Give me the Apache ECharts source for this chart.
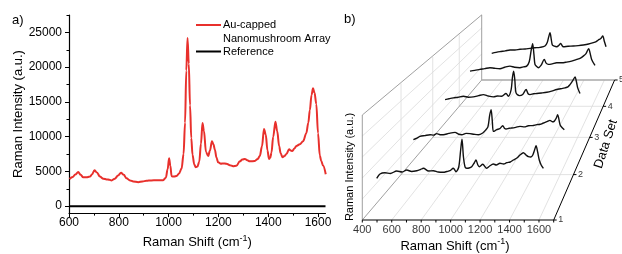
<!DOCTYPE html>
<html>
<head>
<meta charset="utf-8">
<script src="https://cdn.jsdelivr.net/npm/echarts@6/dist/echarts.min.js"></script>
<style>
  html, body { margin: 0; background: #fff; }
  #chart { width: 622px; height: 254px; }
</style>
</head>
<body>
<div id="chart"></div>
<script>
// ---- panel a: Au-capped nanomushroom array vs reference ----
const shiftA = [602, 615, 625, 637, 647, 657, 670, 684, 693, 702, 712, 724, 738, 751, 762, 771, 784, 797, 809, 820,
  831, 845, 858, 878, 895, 911, 930, 952, 978, 989, 996, 1002, 1007, 1012, 1022, 1032, 1042, 1052, 1060, 1066,
  1071, 1076, 1081, 1086, 1091, 1096, 1103, 1109, 1116, 1123, 1130, 1136, 1142, 1150, 1159, 1166, 1174, 1180, 1186, 1192,
  1199, 1210, 1219, 1232, 1246, 1259, 1272, 1286, 1296, 1306, 1316, 1326, 1346, 1358, 1366, 1375, 1383, 1390, 1397, 1403,
  1408, 1413, 1420, 1429, 1436, 1444, 1450, 1457, 1465, 1473, 1484, 1490, 1497, 1505, 1513, 1527, 1540, 1553, 1561, 1567,
  1574, 1580, 1586, 1593, 1600, 1607, 1613, 1620, 1631]
const intensityA = [3900, 4200, 4550, 4900, 4500, 4150, 4150, 4250, 4600, 5150, 4850, 4250, 3950, 3850, 3800, 3700, 3950, 4400, 4800, 4500,
  4000, 3700, 3550, 3450, 3550, 3650, 3700, 3720, 3730, 4100, 5300, 6900, 5800, 4300, 4250, 4350, 4700, 5400, 7500, 12000,
  19500, 24200, 20500, 14500, 9800, 7400, 6000, 5600, 5700, 6400, 9000, 11950, 10800, 7800, 7200, 8000, 9350, 8900, 8100, 7000,
  6300, 6100, 6150, 6100, 5900, 5750, 5800, 6450, 6700, 6800, 6600, 6450, 6500, 6800, 7200, 8600, 11100, 10300, 8000, 6800,
  6950, 7700, 10000, 12150, 10800, 8600, 7600, 7050, 7200, 7500, 8200, 8000, 7950, 8300, 8650, 8900, 9350, 10500, 12000, 13800,
  16000, 16950, 16300, 14700, 10500, 7300, 6500, 5850, 4600]
const refShift = [600, 1630]
const refIntensity = [0, 0]
const ticksAx = [600, 800, 1000, 1200, 1400, 1600]
const minorAx = [700, 900, 1100, 1300, 1500]
const ticksAy = [0, 5000, 10000, 15000, 20000, 25000]
const minorAy = [2500, 7500, 12500, 17500, 22500, 27500]

// ---- panel b: five data sets (waterfall) ----
const set1Shift = [498, 520, 554, 590, 634, 670, 702, 735, 770, 795, 815, 850, 882, 915, 950, 975, 996, 1018, 1037, 1055,
  1068, 1077, 1087, 1098, 1109, 1125, 1143, 1160, 1172, 1185, 1195, 1218, 1245, 1265, 1290, 1310, 1335, 1360, 1381, 1405,
  1426, 1450, 1471, 1494, 1512, 1528, 1545, 1558, 1570, 1580, 1591, 1602, 1615, 1630]
const set1Int = [8340, 9200, 9460, 9300, 9800, 9600, 10000, 9700, 9860, 10100, 10340, 9800, 9860, 9600, 9540, 9700, 9860, 10340, 9660, 10600,
  14000, 16140, 12600, 10600, 10340, 10400, 10660, 11400, 12000, 11000, 10660, 11140, 10340, 10800, 11200, 11000, 11340, 11200, 11460, 11600,
  12000, 12400, 13000, 13460, 13000, 12660, 12600, 13000, 14000, 14860, 13600, 12000, 11000, 10340]
const set2Shift = [493, 520, 543, 580, 619, 645, 669, 695, 719, 760, 807, 835, 858, 890, 920, 950, 983, 1016, 1036, 1055,
  1068, 1079, 1088, 1096, 1108, 1121, 1145, 1167, 1180, 1192, 1215, 1235, 1265, 1297, 1330, 1360, 1390, 1423, 1450, 1473,
  1500, 1523, 1540, 1554, 1570, 1581, 1590, 1599, 1615, 1631]
const set2Int = [8060, 8400, 8800, 9000, 9200, 9100, 9440, 9200, 9200, 9500, 9740, 9300, 9200, 9500, 9440, 9300, 9200, 9600, 10200, 11000,
  13600, 14980, 12400, 9960, 10100, 10360, 10600, 11280, 10700, 10520, 10700, 10740, 10900, 11120, 11000, 11280, 11300, 11520, 11600, 11900,
  12200, 12500, 12200, 12280, 13000, 13820, 12800, 11520, 10800, 10360]
const set3Shift = [502, 535, 571, 610, 654, 695, 736, 780, 819, 860, 902, 935, 971, 1007, 1026, 1049, 1060, 1070, 1080, 1090,
  1117, 1145, 1173, 1190, 1206, 1235, 1262, 1300, 1345, 1385, 1427, 1460, 1496, 1520, 1537, 1560, 1579, 1590, 1601, 1620]
const set3Int = [9880, 10100, 10320, 10500, 10740, 10500, 10580, 10900, 11180, 10800, 10580, 10800, 10740, 11460, 10740, 12400, 15600, 17280, 15000, 11640,
  10920, 11200, 12500, 11400, 11180, 11400, 11460, 11600, 11800, 12100, 12500, 12700, 12940, 13200, 13800, 14800, 15800, 14600, 12940, 11460]
const set4Shift = [497, 540, 587, 630, 677, 720, 768, 810, 858, 900, 948, 980, 1009, 1032, 1050, 1063, 1075, 1084, 1100, 1114,
  1140, 1168, 1185, 1205, 1240, 1280, 1325, 1370, 1415, 1461, 1495, 1520, 1545, 1569, 1583, 1596, 1626]
const set4Int = [10280, 10500, 10780, 11000, 11280, 11100, 10980, 11400, 11740, 11400, 11280, 11500, 11740, 13000, 16400, 18280, 15000, 12240, 11600, 11280,
  12000, 13700, 12600, 12240, 12400, 12720, 12700, 12900, 13200, 13700, 14100, 14660, 15400, 16800, 15400, 13700, 11940]
const set5Shift = [498, 540, 579, 630, 677, 725, 775, 825, 873, 920, 970, 1019, 1042, 1056, 1068, 1080, 1091, 1110, 1134, 1155,
  1173, 1186, 1198, 1245, 1296, 1345, 1394, 1445, 1492, 1520, 1541, 1565, 1584, 1600, 1616]
const set5Int = [8600, 8900, 9140, 9400, 9680, 9700, 9900, 10000, 10220, 10400, 10540, 10960, 12200, 14000, 15260, 13200, 11300, 10900, 10740, 11200,
  11820, 11100, 10740, 10900, 10960, 11100, 11300, 11600, 12040, 12400, 12900, 13400, 14200, 12400, 10740]
const ticksBx = [400, 600, 800, 1000, 1200, 1400, 1600]
const dataSets = [1, 2, 3, 4, 5]

const FONT = 'Liberation Sans, Arial, sans-serif'

// 3D box of panel b, projected with a simple perspective
const B_MIN = 400, B_MAX = 1700, Z_MAX = 21000
const BOX = { x0: 362.3, y0: 220, w: 191.4, h: 105, dx: 119.4, dy: 140, k: 0.44, kh: 0.613 }
function proj(shift, set, z) {
  const u = (shift - B_MIN) / (B_MAX - B_MIN)
  const d = (set - 1) / 4
  const sw = 1 / (1 + BOX.k * d)
  const sh = 1 / (1 + BOX.kh * d)
  const t = d * sw * (1 + BOX.k)
  return [BOX.x0 + BOX.dx * t + u * BOX.w * sw, BOX.y0 - BOX.dy * t - (z / Z_MAX) * BOX.h * sh]
}

const zip = (xs, ys) => xs.map((x, i) => [x, ys[i]])
const plain = v => String(v)

function poly(pts, color, width, z, smooth) {
  return {
    type: 'line', xAxisIndex: 2, yAxisIndex: 2, data: pts, symbol: 'none', silent: true,
    smooth: smooth || false, z: z || 2,
    lineStyle: { color: color, width: width }
  }
}

const series = []

// panel a
series.push({
  name: 'Reference', type: 'line', xAxisIndex: 0, yAxisIndex: 0, symbol: 'none',
  data: zip(refShift, refIntensity), lineStyle: { color: '#000', width: 2 }, z: 3
})
series.push({
  name: 'Au-capped Nanomushroom Array', type: 'line', xAxisIndex: 0, yAxisIndex: 0, symbol: 'none',
  smooth: 0.35, smoothMonotone: 'x',
  data: zip(shiftA, intensityA), lineStyle: { color: '#e8302c', width: 2 }, z: 4
})

// panel b - grid lines
const GRID = '#dadada'
for (let s = 600; s <= 1600; s += 200) series.push(poly([proj(s, 1, 0), proj(s, 5, 0)], GRID, 0.8, 1))
for (const n of [2, 3, 4]) {
  series.push(poly([proj(B_MIN, n, 0), proj(B_MAX, n, 0)], GRID, 0.8, 1))
  series.push(poly([proj(B_MIN, n, 0), proj(B_MIN, n, Z_MAX)], GRID, 0.8, 1))
}
for (const f of [0.2, 0.4, 0.6, 0.8]) series.push(poly([proj(B_MIN, 1, f * Z_MAX), proj(B_MIN, 5, f * Z_MAX)], GRID, 0.8, 1))

// panel b - box frame
series.push(poly([proj(B_MIN, 1, 0), proj(B_MIN, 1, Z_MAX), proj(B_MIN, 5, Z_MAX), proj(B_MIN, 5, 0)], '#888', 0.8))
series.push(poly([proj(B_MIN, 1, 0), proj(B_MIN, 5, 0)], '#888', 0.8))
series.push(poly([proj(B_MIN, 5, 0), proj(B_MAX, 5, 0)], '#a8a8a8', 1.5))
series.push(poly([proj(B_MIN, 1, 0), proj(B_MAX, 1, 0)], '#000', 1))
series.push(poly([proj(B_MAX, 1, 0), proj(B_MAX, 5, 0)], '#000', 1))
for (let s = B_MIN; s <= B_MAX; s += 100) {
  const p = proj(s, 1, 0)
  series.push(poly([p, [p[0], p[1] + 2.5]], '#000', 1))
}
for (const n of dataSets) {
  const p = proj(B_MAX, n, 0)
  series.push(poly([p, [p[0] + 3, p[1]]], '#000', 1))
}

// panel b - spectra
const sets = [[set1Shift, set1Int, 1], [set2Shift, set2Int, 2], [set3Shift, set3Int, 3], [set4Shift, set4Int, 4], [set5Shift, set5Int, 5]]
for (const [xs, ys, n] of sets) {
  series.push(poly(xs.map((s, i) => proj(s, n, ys[i])), '#111', 1.4, 5, 0.3))
}

// panel b - tick labels
series.push({
  type: 'scatter', xAxisIndex: 2, yAxisIndex: 2, symbolSize: 1, silent: true,
  itemStyle: { color: 'transparent' },
  data: ticksBx.map(s => ({ value: proj(s, 1, 0), name: String(s) })),
  label: { show: true, position: 'bottom', distance: 4, formatter: '{b}', color: '#000', fontSize: 11, fontFamily: FONT }
})
series.push({
  type: 'scatter', xAxisIndex: 2, yAxisIndex: 2, symbolSize: 1, silent: true,
  itemStyle: { color: 'transparent' },
  data: dataSets.map(n => ({ value: proj(B_MAX, n, 0), name: String(n) })),
  label: { show: true, position: 'right', distance: 4, formatter: '{b}', color: '#000', fontSize: 9, fontFamily: FONT }
})

const txt = (x, y, text, size, extra) => Object.assign({
  type: 'text', x: x, y: y, silent: true,
  style: { text: text, font: size + 'px ' + FONT, fill: '#000', align: 'left', verticalAlign: 'middle' }
}, extra || {})

const option = {
  animation: false,
  backgroundColor: '#fff',
  grid: [
    { left: 69, top: 15, width: 256.5, height: 204 },
    { left: 0, top: 0, width: 622, height: 254 }
  ],
  xAxis: [
    {
      gridIndex: 0, type: 'value', position: 'bottom', min: 600, max: 1630,
      axisLine: { show: true, onZero: false, lineStyle: { color: '#000', width: 1.2 } },
      axisTick: { show: true, customValues: ticksAx, length: 4, lineStyle: { color: '#000' } },
      axisLabel: { customValues: ticksAx, formatter: plain, color: '#000', fontSize: 12, fontFamily: FONT, margin: 4 },
      splitLine: { show: false },
      name: '{n|Raman Shift (cm}{s|-1}{n|)}', nameLocation: 'middle', nameGap: 18,
      nameTextStyle: {
        rich: {
          n: { fontSize: 13, fontFamily: FONT, color: '#000', verticalAlign: 'bottom' },
          s: { fontSize: 9, fontFamily: FONT, color: '#000', verticalAlign: 'bottom', padding: [0, 0, 6, 0] }
        }
      }
    },
    {
      gridIndex: 0, type: 'value', position: 'bottom', min: 600, max: 1630,
      axisLine: { show: false, onZero: false },
      axisTick: { show: true, customValues: minorAx, length: 2.5, lineStyle: { color: '#000' } },
      axisLabel: { show: false }, splitLine: { show: false }
    },
    { gridIndex: 1, type: 'value', min: 0, max: 622, show: false }
  ],
  yAxis: [
    {
      gridIndex: 0, type: 'value', position: 'left', min: -1000, max: 27500,
      axisLine: { show: true, onZero: false, lineStyle: { color: '#000', width: 1.2 } },
      axisTick: { show: true, customValues: ticksAy, length: 4, lineStyle: { color: '#000' } },
      axisLabel: { customValues: ticksAy, formatter: plain, color: '#000', fontSize: 12, fontFamily: FONT, margin: 7 },
      splitLine: { show: false },
      name: 'Raman Intensity (a.u.)', nameLocation: 'middle', nameGap: 41,
      nameTextStyle: { fontSize: 13, fontFamily: FONT, color: '#000' }
    },
    {
      gridIndex: 0, type: 'value', position: 'left', min: -1000, max: 27500,
      axisLine: { show: false, onZero: false },
      axisTick: { show: true, customValues: minorAy, length: 2.5, lineStyle: { color: '#000' } },
      axisLabel: { show: false }, splitLine: { show: false }
    },
    { gridIndex: 1, type: 'value', min: 0, max: 254, inverse: true, show: false }
  ],
  graphic: [
    txt(12, 20, 'a)', 13),
    txt(344, 19, 'b)', 13),
    // legend of panel a
    { type: 'line', silent: true, shape: { x1: 196, y1: 25, x2: 221, y2: 25 }, style: { stroke: '#e8302c', lineWidth: 2 } },
    txt(223, 25, 'Au-capped', 11),
    txt(223, 38.5, 'Nanomushroom Array', 11),
    { type: 'line', silent: true, shape: { x1: 196, y1: 51.5, x2: 221, y2: 51.5 }, style: { stroke: '#000', lineWidth: 2 } },
    txt(223, 51.5, 'Reference', 11),
    // axis titles of panel b
    txt(350, 167, 'Raman Intensity (a.u.)', 11, { rotation: Math.PI / 2, style: { text: 'Raman Intensity (a.u.)', font: '11px ' + FONT, fill: '#000', align: 'center', verticalAlign: 'middle' } }),
    {
      type: 'text', x: 455, y: 245, silent: true,
      style: {
        text: '{n|Raman Shift (cm}{s|-1}{n|)}', align: 'center', verticalAlign: 'middle',
        rich: {
          n: { font: '13px ' + FONT, fill: '#000', verticalAlign: 'bottom' },
          s: { font: '9px ' + FONT, fill: '#000', verticalAlign: 'bottom', padding: [0, 0, 6, 0] }
        }
      }
    },
    txt(606, 144, 'Data Set', 13, { rotation: 72 * Math.PI / 180, style: { text: 'Data Set', font: '13px ' + FONT, fill: '#000', align: 'center', verticalAlign: 'middle' } })
  ],
  series: series
}

const chart = echarts.init(document.getElementById('chart'))
chart.setOption(option)
</script>
</body>
</html>
